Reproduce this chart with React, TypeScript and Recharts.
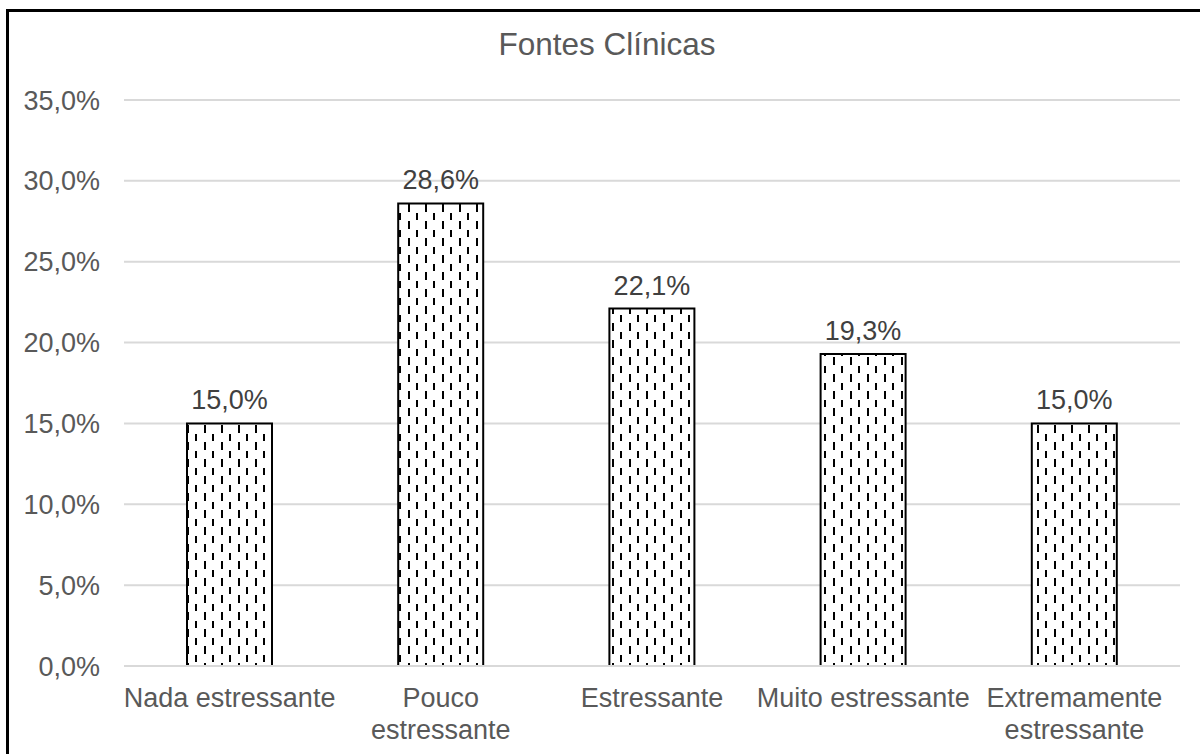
import React from 'react';
import { BarChart, Bar, XAxis, YAxis, CartesianGrid, LabelList } from 'recharts';

const title = 'Fontes Clínicas';
const categories = ['Nada estressante', 'Pouco\nestressante', 'Estressante', 'Muito estressante', 'Extremamente\nestressante'];
const values = [15.0, 28.6, 22.1, 19.3, 15.0];
const yTicks = [0, 5, 10, 15, 20, 25, 30, 35];

const data = categories.map((c, i) => ({ name: c, value: values[i] }));
const fmt = (v: any) => Number(v).toFixed(1).replace('.', ',') + '%';
const FONT = 'Liberation Sans, Arial, sans-serif';

const XTick = (props: any) => {
  const { x, y, payload } = props;
  const lines = String(payload.value).split('\n');
  return (
    <text x={x} y={y + 41} textAnchor="middle" fill="#595959" fontSize={27} fontFamily={FONT}>
      {lines.map((l, i) => (
        <tspan key={i} x={x} dy={i === 0 ? 0 : 32}>{l}</tspan>
      ))}
    </text>
  );
};

const YTick = (props: any) => {
  const { x, y, payload } = props;
  return (
    <text x={x - 24} y={y + 9.5} textAnchor="end" fill="#595959" fontSize={27} fontFamily={FONT}>
      {fmt(payload.value)}
    </text>
  );
};

export default function App() {
  return (
    <div style={{ position: 'absolute', left: 0, top: 0, width: 1200, height: 754, background: '#fff' }}>
      <BarChart
        width={1200}
        height={754}
        data={data}
        margin={{ top: 100, right: 20, bottom: 0, left: 0 }}
      >
        <defs>
          <pattern id="dashPat" patternUnits="userSpaceOnUse" width={17} height={17}>
            <rect x={0} y={0} width={17} height={17} fill="#fff" />
            <rect x={0} y={0} width={2} height={8} fill="#000" />
            <rect x={8} y={9} width={2} height={7} fill="#000" />
          </pattern>
        </defs>
        <CartesianGrid vertical={false} stroke="#d9d9d9" strokeWidth={2} />
        <XAxis
          dataKey="name"
          height={88}
          tickLine={false}
          tickSize={0}
          tickMargin={0}
          axisLine={{ stroke: '#d9d9d9', strokeWidth: 2 }}
          tick={<XTick />}
          interval={0}
        />
        <YAxis
          width={124}
          domain={[0, 35]}
          ticks={yTicks}
          axisLine={false}
          tickLine={false}
          tickSize={0}
          tickMargin={0}
          tick={<YTick />}
          interval={0}
        />
        <Bar dataKey="value" fill="url(#dashPat)" stroke="#000" strokeWidth={2} barSize={85} isAnimationActive={false}>
          <LabelList dataKey="value" position="top" offset={14} formatter={fmt} fill="#404040" fontSize={27} fontFamily={FONT} />
        </Bar>
      </BarChart>
      <svg width={1200} height={754} style={{ position: 'absolute', left: 0, top: 0, pointerEvents: 'none' }}>
        <line x1={7.5} y1={9} x2={7.5} y2={754} stroke="#000" strokeWidth={3} />
        <line x1={6} y1={10.5} x2={1200} y2={10.5} stroke="#000" strokeWidth={3} />
        <text x={607} y={55} textAnchor="middle" fill="#595959" fontSize={31.5} fontFamily={FONT}>{title}</text>
      </svg>
    </div>
  );
}
